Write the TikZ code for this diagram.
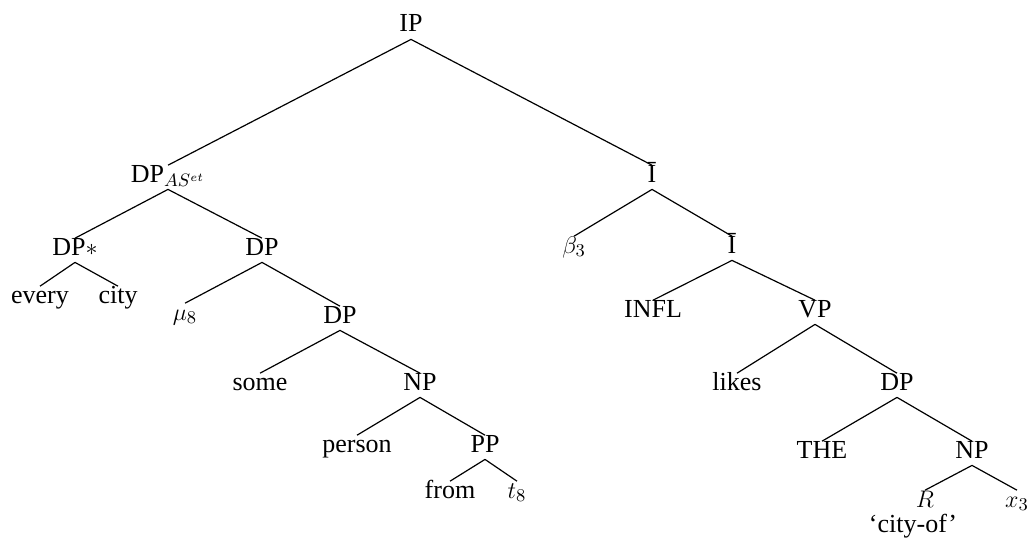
\documentclass[tikz,border=0pt]{standalone}
\usepackage{fontspec}
\setmainfont{Liberation Serif}
\begin{document}
\begin{tikzpicture}[x=0.5pt,y=-0.5pt,
  lab/.style={anchor=base,font=\fontsize{13}{15}\selectfont,inner xsep=1pt,inner ysep=1pt,text height=0.72em,text depth=0.25em},
  edge/.style={line width=0.6pt}]
\useasboundingbox (0,0) rectangle (1032,540);
% nodes
\node[lab] (ip) at (411,32) {IP};
\node[lab] (dpa) at (168,182) {DP$_{AS^{et}}$};
\node[lab] (ib1) at (652,182) {\=I};
\node[lab] (dps) at (75,255) {DP$*$};
\node[lab] (dp1) at (262,255) {DP};
\node[lab] (beta) at (574,253) {$\beta_3$};
\node[lab] (ib2) at (732,253) {\=I};
\node[lab] (every) at (40,303) {every};
\node[lab] (city) at (118,303) {city};
\node[lab] (mu) at (185,320) {$\mu_8$};
\node[lab] (dp2) at (340,323) {DP};
\node[lab] (infl) at (653,317) {INFL};
\node[lab] (vp) at (815,317) {VP};
\node[lab] (some) at (260,390) {some};
\node[lab] (np1) at (420,390) {NP};
\node[lab] (likes) at (737,390) {likes};
\node[lab] (dp3) at (897,390) {DP};
\node[lab] (person) at (357,452) {person};
\node[lab] (pp) at (485,452) {PP};
\node[lab] (the) at (822,458) {THE};
\node[lab] (np2) at (972,458) {NP};
\node[lab] (from) at (450,498) {from};
\node[lab] (t8) at (517,498) {$t_8$};
\node[lab] (r) at (925,507) {$R$};
\node[lab] (x3) at (1017,507) {$x_3$};
\node[lab] (cityof) at (913,532) {‘city-of’};
% edges
\foreach \p/\c in {ip/dpa, ip/ib1, dpa/dps, dpa/dp1, ib1/beta, ib1/ib2,
  dps/every, dps/city, dp1/mu, dp1/dp2, ib2/infl, ib2/vp,
  dp2/some, dp2/np1, vp/likes, vp/dp3, np1/person, np1/pp,
  dp3/the, dp3/np2, pp/from, pp/t8, np2/r, np2/x3}
  \draw[edge] (\p.south) -- (\c.north);
\end{tikzpicture}
\end{document}
